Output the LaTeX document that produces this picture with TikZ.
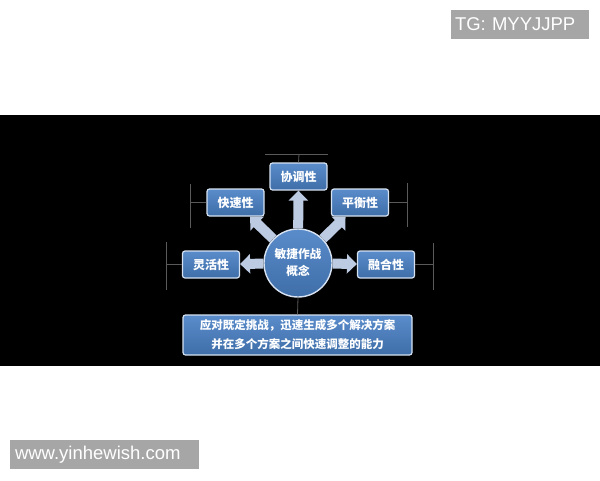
\documentclass[tikz,border=0pt]{standalone}
\usepackage{fontspec}
\newfontfamily\cjk{Noto Sans CJK SC}
\newfontfamily\wm{Liberation Sans}
\usetikzlibrary{arrows.meta}
\definecolor{boxtop}{HTML}{5A8CCB}
\definecolor{boxbot}{HTML}{3F6EA8}
\definecolor{boxedge}{HTML}{D6E2F2}
\definecolor{arrowc}{HTML}{BCCBE2}
\definecolor{guide}{HTML}{5A5A5A}
\definecolor{wmgrey}{HTML}{A6A6A6}
\tikzset{
  conceptbox/.style={rectangle, rounded corners=2.5pt, draw=boxedge, line width=1.2pt,
    top color=boxtop, bottom color=boxbot, text=white,
    font=\cjk\bfseries\fontsize{12}{14}\selectfont,
    minimum width=57pt, minimum height=27pt, inner sep=0pt},
  hub/.style={circle, draw=boxedge, line width=1.4pt, top color=boxtop, bottom color=boxbot,
    text=white, font=\cjk\bfseries\fontsize{11.7}{17}\selectfont, align=center,
    minimum size=68pt, inner sep=0pt},
  bigarrow/.style={draw=arrowc, line width=10pt, -{Triangle[width=19pt,length=10pt]}},
  guideline/.style={draw=guide, line width=0.8pt},
  wmbox/.style={fill=wmgrey, text=white, font=\wm\fontsize{18.5}{20}\selectfont,
    align=left, minimum height=29pt, inner ysep=0pt}
}
\begin{document}
\begin{tikzpicture}[x=1pt,y=-1pt]
\useasboundingbox (0,0) rectangle (600,480);
\fill[white] (0,0) rectangle (600,480);
\fill[black] (0,115) rectangle (600,366);

% guide lines
\draw[guideline] (265,154) -- (328,154);
\draw[guideline] (190,184) -- (190,228);
\draw[guideline] (407,183) -- (407,227);
\draw[guideline] (166,242) -- (166,290);
\draw[guideline] (433,243) -- (433,290);

% nodes
\node[hub] (c) at (298,263) {敏捷作战\\概念};
\node[conceptbox] (xie) at (298.5,176.5) {协调性};
\node[conceptbox] (kuai) at (235.5,202.5) {快速性};
\node[conceptbox] (ping) at (360,202.5) {平衡性};
\node[conceptbox] (ling) at (211,264.5) {灵活性};
\node[conceptbox] (rong) at (386,264.5) {融合性};
\node[conceptbox, minimum width=229pt, minimum height=40pt, align=center,
      font=\cjk\bfseries\fontsize{11.5}{19}\selectfont] (desc) at (297.5,335)
      {应对既定挑战，迅速生成多个解决方案\\并在多个方案之间快速调整的能力};

% short guide stubs from nodes
\draw[guideline] (xie.north) -- (299,154);
\draw[guideline] (kuai.west) -- (190,202.5);
\draw[guideline] (ping.east) -- (407,202.5);
\draw[guideline] (ling.west) -- (166,264.5);
\draw[guideline] (rong.east) -- (433,264.5);
\draw[guideline] (c.south) -- (desc.north);

% arrows
\draw[bigarrow] (c) -- (xie);
\draw[bigarrow] (c) -- (kuai);
\draw[bigarrow] (c) -- (ping);
\draw[bigarrow] (c) -- (ling);
\draw[bigarrow] (c) -- (rong);

% watermarks
\node[wmbox, text width=130pt, inner xsep=4pt] (tg) at (520,24.5) {TG: MYYJJPP};
\node[wmbox, text width=179pt, inner xsep=5pt] (site) at (104.5,454.5) {www.yinhewish.com};
\end{tikzpicture}
\end{document}
